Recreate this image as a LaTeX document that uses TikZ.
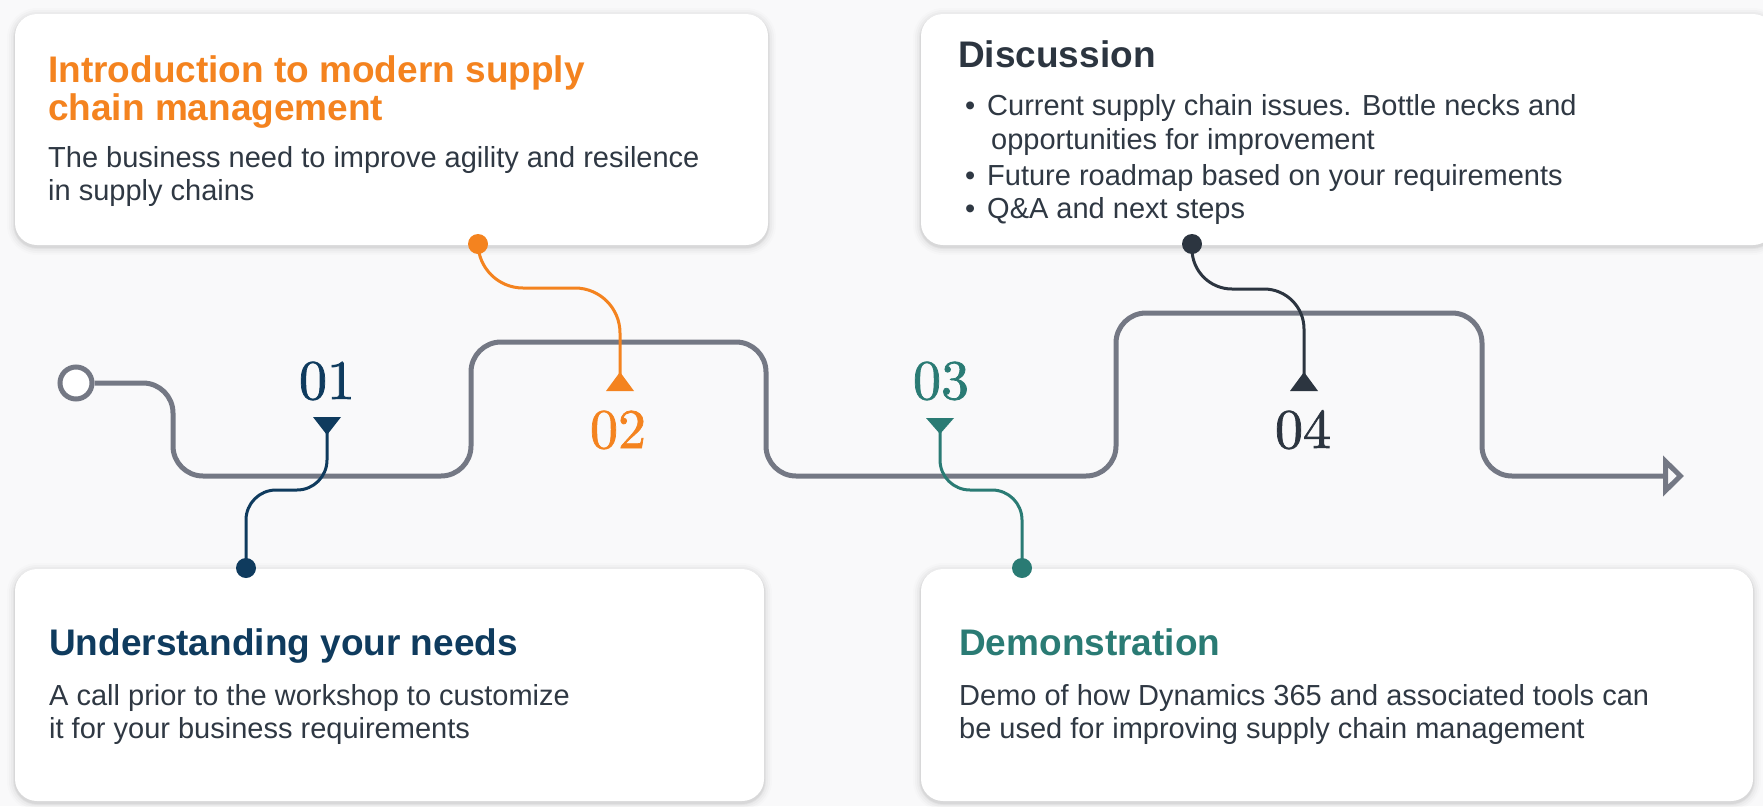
\documentclass[tikz,border=0pt]{standalone}
\usepackage{fontspec}
\newfontfamily\lib{Liberation Sans}
\newfontfamily\numfont{lmroman10-regular.otf}[FakeBold=1.3]
\usetikzlibrary{arrows.meta}
\definecolor{bg}{HTML}{F9F9FA}
\definecolor{linegray}{HTML}{747884}
\definecolor{navy}{HTML}{0F3B5E}
\definecolor{orng}{HTML}{F4831F}
\definecolor{tealc}{HTML}{2A7B74}
\definecolor{darkc}{HTML}{2C3540}
\definecolor{bodytxt}{HTML}{2F3843}
\newcommand\cardbox[5]{%
  \foreach \k/\o in {8/0.012,6/0.018,4/0.025,2/0.035,1/0.045}{%
    \fill[black, opacity=\o, rounded corners=22pt+\k pt] (#2-\k,#3-\k+2) rectangle (#4+\k,#5+\k+2);}
  \node[card, minimum width=#4-#2, minimum height=#5-#3] (#1) at ({(#2+#4)/2},{(#3+#5)/2}) {};}
\begin{document}
\begin{tikzpicture}[x=1pt,y=-1pt,
  card/.style={fill=white, rounded corners=22pt, inner sep=0, draw=none},
  ttl/.style={anchor=base west, inner sep=0, font=\lib\bfseries\fontsize{37}{38}\selectfont},
  bdy/.style={anchor=base west, inner sep=0, font=\lib\fontsize{29}{33}\selectfont, text=bodytxt},
  num/.style={anchor=base, inner sep=0, font=\numfont\fontsize{56}{56}\selectfont},
  track/.style={draw=linegray, line width=5pt, rounded corners=30pt},
  conn/.style={line width=3pt, rounded corners=#1},
  conn/.default=30pt,
  enddot/.style={circle, inner sep=0, minimum size=20pt, fill=#1},
  ]
\useasboundingbox (0,0) rectangle (1763,806);
\fill[bg] (0,0) rectangle (1763,806);

% cards
\cardbox{c1}{15}{14}{768}{245}
\cardbox{c2}{921}{14}{1775}{245}
\cardbox{c3}{15}{569}{764}{801}
\cardbox{c4}{921}{569}{1753}{801}

% card texts
\node[ttl, text=orng] (t1a) at (48,82) {Introduction to modern supply};
\node[ttl, text=orng] (t1b) at (48,120) {chain management};
\node[bdy] (b1a) at (48,167) {The business need to improve agility and resilence};
\node[bdy] (b1b) at (48,200) {in supply chains};

\node[ttl, text=darkc] (t2) at (958,67) {Discussion};
\node[bdy] (u1) at (965,115) {•};
\node[bdy] (b2a) at (987,115) {Current supply chain issues. Bottle necks and};
\node[bdy] (b2b) at (991,149) {opportunities for improvement};
\node[bdy] (u2) at (965,185) {•};
\node[bdy] (b2c) at (987,185) {Future roadmap based on your requirements};
\node[bdy] (u3) at (965,218) {•};
\node[bdy] (b2d) at (987,218) {Q\&A and next steps};

\node[ttl, text=navy] (t3) at (49,655) {Understanding your needs};
\node[bdy] (b3a) at (49,705) {A call prior to the workshop to customize};
\node[bdy] (b3b) at (49,738) {it for your business requirements};

\node[ttl, text=tealc] (t4) at (959,655) {Demonstration};
\node[bdy] (b4a) at (959,705) {Demo of how Dynamics 365 and associated tools can};
\node[bdy] (b4b) at (959,738) {be used for improving supply chain management};

% main track
\node[circle, draw=linegray, line width=5pt, minimum size=32pt, inner sep=0, fill=white] (start) at (76,383) {};
\coordinate (fin) at (1684,476);
\draw[track, -{Triangle[open, length=21pt, width=40pt]}]
  (start.east) -- (173,383) -- (173,476) -- (471,476) -- (471,342) -- (766,342)
  -- (766,476) -- (1116,476) -- (1116,313) -- (1482,313) -- (1482,476) -- (fin);

% numbers
\node[num, text=navy] (n1) at (327,399) {01};
\node[num, text=orng] (n2) at (618,448) {02};
\node[num, text=tealc] (n3) at (941,399) {03};
\node[num, text=darkc] (n4) at (1303,448) {04};

% markers
\fill[navy] (313,417) -- (341,417) -- (327,435) -- cycle;
\fill[orng] (606,391) -- (634,391) -- (620,372) -- cycle;
\fill[tealc] (926,418) -- (954,418) -- (940,434) -- cycle;
\fill[darkc] (1290,391) -- (1318,391) -- (1304,372) -- cycle;
\coordinate (m1) at (327,432);
\coordinate (m2) at (620,376);
\coordinate (m3) at (940,431);
\coordinate (m4) at (1304,376);
\coordinate (p1) at (246,568);
\coordinate (p2) at (478,244);
\coordinate (p3) at (1022,568);
\coordinate (p4) at (1192,244);

% connectors
\draw[navy, conn=30pt] (m1) -- (327,490) -- (246,490) -- (p1);
\draw[orng, conn=45pt] (p2) -- (478,288) -- (620,288) -- (m2);
\draw[tealc, conn=30pt] (m3) -- (940,490) -- (1022,490) -- (p3);
\draw[darkc, conn=40pt] (p4) -- (1192,289) -- (1304,289) -- (m4);

\node[enddot=navy] (d1) at (p1) {};
\node[enddot=orng] (d2) at (p2) {};
\node[enddot=tealc] (d3) at (p3) {};
\node[enddot=darkc] (d4) at (p4) {};
\end{tikzpicture}
\end{document}
